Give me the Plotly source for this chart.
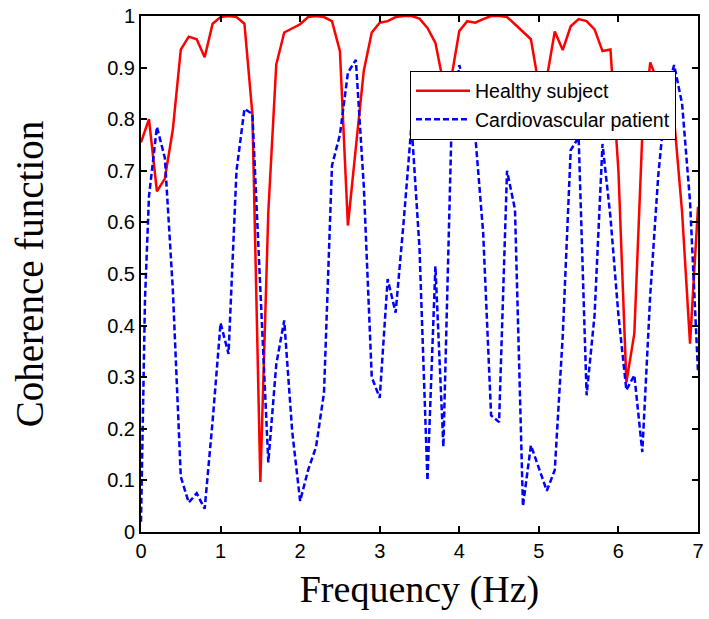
import plotly.graph_objects as go

# Healthy subject (red, solid)
healthy_f = [0.0, 0.1, 0.2, 0.3, 0.4, 0.5, 0.6, 0.7, 0.8, 0.9,
             1.0, 1.1, 1.2, 1.3, 1.4, 1.5, 1.6, 1.7, 1.8, 1.9,
             2.0, 2.1, 2.2, 2.3, 2.4, 2.5, 2.6, 2.7, 2.8, 2.9,
             3.0, 3.1, 3.2, 3.3, 3.4, 3.5, 3.6, 3.7, 3.8, 3.9,
             4.0, 4.1, 4.2, 4.3, 4.4, 4.5, 4.6, 4.7, 4.8, 4.9,
             5.0, 5.1, 5.2, 5.3, 5.4, 5.5, 5.6, 5.7, 5.8, 5.9,
             6.0, 6.1, 6.2, 6.3, 6.4, 6.5, 6.6, 6.7, 6.8, 6.9, 7.0]
healthy_c = [0.755, 0.80, 0.66, 0.685, 0.78, 0.935, 0.96, 0.955, 0.92, 0.985,
             0.998, 1.0, 0.998, 0.985, 0.81, 0.097, 0.62, 0.906, 0.968, 0.976,
             0.984, 0.998, 1.0, 0.998, 0.99, 0.932, 0.594, 0.745, 0.894, 0.968,
             0.987, 0.99, 0.998, 1.0, 1.0, 0.995, 0.977, 0.948, 0.87, 0.88,
             0.971, 0.99, 0.987, 0.994, 1.0, 1.0, 0.998, 0.984, 0.97, 0.955,
             0.865, 0.88, 0.97, 0.934, 0.98, 0.994, 0.99, 0.974, 0.932, 0.935,
             0.70, 0.29, 0.385, 0.77, 0.91, 0.87, 0.84, 0.80, 0.62, 0.365, 0.63]

# Cardiovascular patient (blue, dashed)
patient_f = [0.0, 0.05, 0.1, 0.2, 0.3, 0.4, 0.5, 0.6, 0.7, 0.8, 0.9,
             1.0, 1.1, 1.2, 1.3, 1.4, 1.5, 1.6, 1.7, 1.8, 1.9,
             2.0, 2.1, 2.2, 2.3, 2.4, 2.5, 2.6, 2.7, 2.8, 2.9,
             3.0, 3.1, 3.2, 3.3, 3.4, 3.5, 3.6, 3.7, 3.8, 3.9,
             4.0, 4.1, 4.2, 4.3, 4.4, 4.5, 4.6, 4.7, 4.8, 4.9,
             5.0, 5.1, 5.2, 5.3, 5.4, 5.5, 5.6, 5.7, 5.8, 5.9,
             6.0, 6.1, 6.2, 6.3, 6.4, 6.5, 6.6, 6.7, 6.8, 6.9, 7.0]
patient_c = [0.02, 0.45, 0.65, 0.785, 0.725, 0.47, 0.107, 0.057, 0.075, 0.045, 0.215,
             0.405, 0.345, 0.70, 0.82, 0.81, 0.47, 0.135, 0.325, 0.41, 0.195,
             0.06, 0.12, 0.165, 0.27, 0.71, 0.77, 0.89, 0.915, 0.67, 0.30,
             0.26, 0.49, 0.425, 0.60, 0.79, 0.55, 0.10, 0.515, 0.165, 0.77,
             0.905, 0.85, 0.77, 0.58, 0.226, 0.213, 0.70, 0.625, 0.05, 0.168,
             0.125, 0.08, 0.12, 0.38, 0.74, 0.765, 0.265, 0.42, 0.752, 0.61,
             0.42, 0.275, 0.304, 0.155, 0.46, 0.69, 0.85, 0.905, 0.83, 0.64, 0.31]

x_ticks = [0, 1, 2, 3, 4, 5, 6, 7]
y_ticks = [0, 0.1, 0.2, 0.3, 0.4, 0.5, 0.6, 0.7, 0.8, 0.9, 1]
y_tick_text = ["0", "0.1", "0.2", "0.3", "0.4", "0.5", "0.6", "0.7", "0.8", "0.9", "1"]

fig = go.Figure()
fig.add_trace(go.Scatter(x=healthy_f, y=healthy_c, mode="lines",
                         name="Healthy subject",
                         line=dict(color="#ff0000", width=2.5)))
fig.add_trace(go.Scatter(x=patient_f, y=patient_c, mode="lines",
                         name="Cardiovascular patient",
                         line=dict(color="#0000ff", width=2.5, dash="6px,3px")))

axis_common = dict(showline=True, linecolor="black", linewidth=2, mirror="ticks",
                   ticks="inside", ticklen=6, tickwidth=1.5, tickcolor="black",
                   showgrid=False, zeroline=False,
                   tickfont=dict(family="Liberation Sans, Arial", size=20, color="black"))

fig.update_xaxes(range=[0, 7], tickvals=x_ticks, **axis_common,
                 title=dict(text="Frequency (Hz)", standoff=14,
                            font=dict(family="Liberation Serif, Times New Roman", size=38, color="black")))
fig.update_yaxes(range=[0, 1], tickvals=y_ticks, ticktext=y_tick_text, **axis_common,
                 title=dict(text="Coherence function", standoff=52,
                            font=dict(family="Liberation Serif, Times New Roman", size=39, color="black")))

fig.update_layout(
    width=709, height=619,
    margin=dict(l=141, r=5, t=15, b=87),
    plot_bgcolor="white", paper_bgcolor="white",
    legend=dict(x=0.483, y=0.894, xanchor="left", yanchor="top",
                bgcolor="white", bordercolor="black", borderwidth=1,
                font=dict(family="Liberation Sans, Arial", size=19.5, color="black"),
                itemwidth=54, tracegroupgap=0, entrywidth=265, entrywidthmode="pixels"),
    showlegend=True,
)

fig.write_html("out.html")
